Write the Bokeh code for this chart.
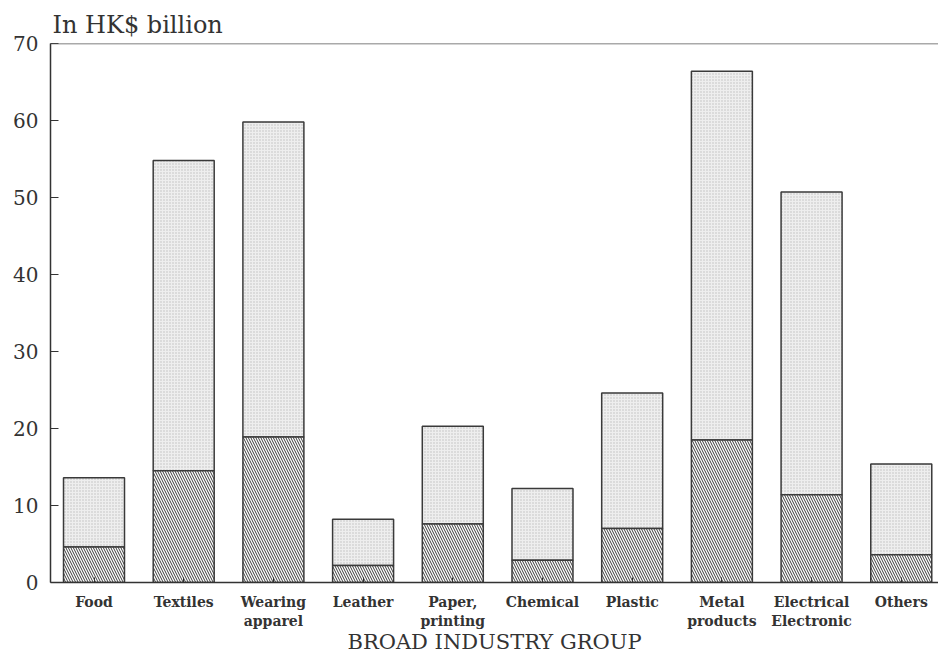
from bokeh.plotting import figure
from bokeh.models import Range1d, FixedTicker, Span
from bokeh.embed import file_html
from bokeh.resources import INLINE

categories = ["Food", "Textiles", "Wearing\napparel", "Leather", "Paper,\nprinting",
              "Chemical", "Plastic", "Metal\nproducts", "Electrical\nElectronic", "Others"]
lower_values = [4.6, 14.5, 18.9, 2.2, 7.6, 2.9, 7.0, 18.5, 11.4, 3.6]
total_values = [13.6, 54.8, 59.8, 8.2, 20.3, 12.2, 24.6, 66.4, 50.7, 15.4]
y_ticks = [0, 10, 20, 30, 40, 50, 60, 70]

xs = list(range(len(categories)))

p = figure(width=938, height=656, output_backend="svg", toolbar_location=None,
           x_range=Range1d(-0.485, 9.415), y_range=Range1d(0, 70),
           min_border_left=50, min_border_right=0, min_border_top=43, min_border_bottom=10)

p.title.text = "In HK$ billion"
p.title.align = "left"
p.title.text_font = "DejaVu Serif"
p.title.text_font_size = "24px"
p.title.text_font_style = "normal"
p.title.text_color = "#333333"
p.title.offset = 2
p.title.standoff = 9

p.outline_line_color = None
p.xgrid.grid_line_color = None
p.ygrid.grid_line_color = None
p.background_fill_color = "white"
p.border_fill_color = "white"

# upper (stippled) segment
p.vbar(x=xs, width=0.68, bottom=lower_values, top=total_values,
       fill_color="#eeeeee", line_color="#3a3a3a", line_width=1.5,
       hatch_pattern="dot", hatch_color="#bdbdbd", hatch_scale=3, hatch_weight=0.6)
# lower (hatched) segment
p.vbar(x=xs, width=0.68, bottom=0, top=lower_values,
       fill_color="white", line_color="#3a3a3a", line_width=1.5,
       hatch_pattern="left_diagonal_line", hatch_color="#3a3a3a", hatch_scale=5, hatch_weight=1.0)

p.add_layout(Span(location=70, dimension="width", line_color="#555555", line_width=1.5))

ax = p.xaxis[0]
ax.ticker = FixedTicker(ticks=xs)
ax.major_label_overrides = {i: c for i, c in enumerate(categories)}
ax.major_label_text_font = "DejaVu Serif"
ax.major_label_text_font_size = "14px"
ax.major_label_text_font_style = "bold"
ax.major_label_text_color = "#333333"
ax.major_label_standoff = 11
ax.major_tick_in = 5
ax.major_tick_out = 0
ax.minor_tick_line_color = None
ax.axis_line_color = "#333333"
ax.axis_line_width = 1.5
ax.major_tick_line_color = "#333333"
ax.axis_label = "BROAD INDUSTRY GROUP"
ax.axis_label_text_font = "DejaVu Serif"
ax.axis_label_text_font_size = "21px"
ax.axis_label_text_font_style = "normal"
ax.axis_label_text_color = "#333333"
ax.axis_label_standoff = -2

ay = p.yaxis[0]
ay.ticker = FixedTicker(ticks=y_ticks)
ay.major_label_text_font = "DejaVu Serif"
ay.major_label_text_font_size = "20px"
ay.major_label_text_color = "#333333"
ay.major_label_standoff = 12
ay.major_tick_in = 8
ay.major_tick_out = 0
ay.minor_tick_line_color = None
ay.axis_line_color = "#333333"
ay.axis_line_width = 1.5
ay.major_tick_line_color = "#333333"

open("out.html", "w").write(file_html(p, INLINE))
